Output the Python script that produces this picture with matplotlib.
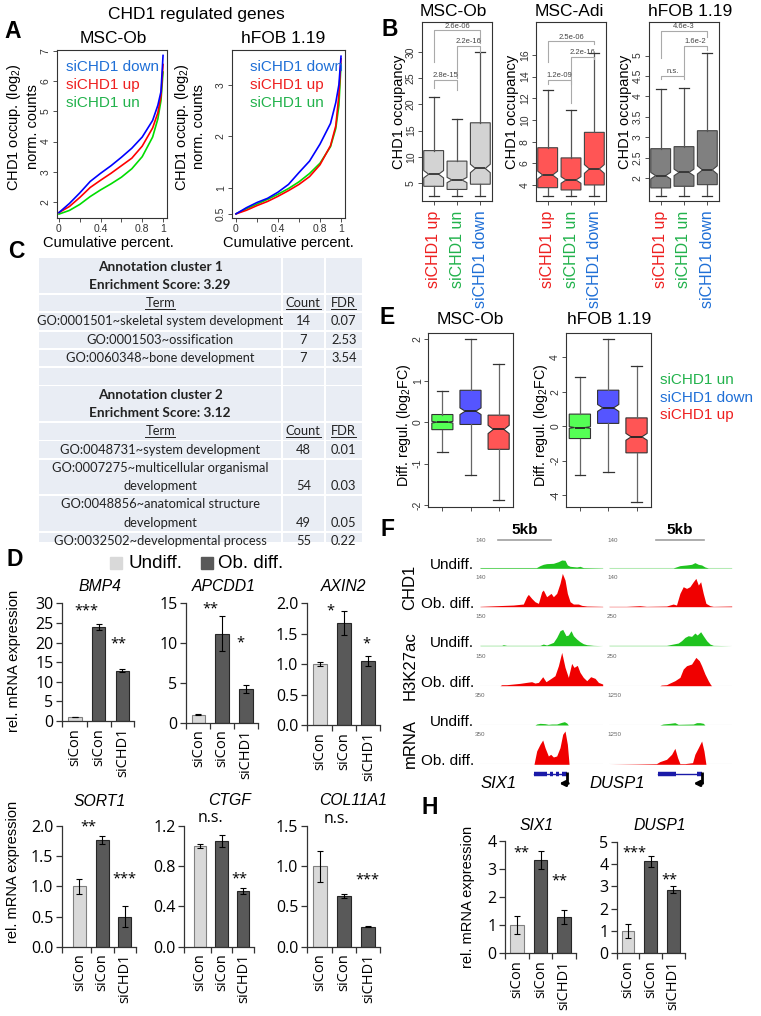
import matplotlib
matplotlib.use('Agg')
import matplotlib.pyplot as plt
from matplotlib.patches import Rectangle
from matplotlib.transforms import offset_copy

# ================= DATA =================
# Panel A: cumulative distributions (quantile curves)
cum_pct = [0, 0.1, 0.2, 0.3, 0.4, 0.5, 0.6, 0.7, 0.8, 0.9, 0.95, 0.98, 1.0]
a_msc_down = [1.65, 1.95, 2.30, 2.68, 2.95, 3.20, 3.48, 3.78, 4.15, 4.70, 5.20, 5.65, 6.85]
a_msc_up = [1.65, 1.85, 2.15, 2.48, 2.72, 2.95, 3.20, 3.45, 3.85, 4.45, 4.95, 5.50, 6.55]
a_msc_un = [1.60, 1.72, 1.92, 2.18, 2.40, 2.60, 2.82, 3.10, 3.50, 4.15, 4.75, 5.35, 6.30]
a_hfob_down = [0.50, 0.62, 0.72, 0.80, 0.92, 1.07, 1.30, 1.52, 1.85, 2.25, 2.65, 3.00, 3.55]
a_hfob_up = [0.50, 0.57, 0.66, 0.74, 0.84, 0.95, 1.07, 1.22, 1.45, 1.82, 2.20, 2.80, 3.50]
a_hfob_un = [0.50, 0.60, 0.69, 0.78, 0.88, 0.99, 1.12, 1.28, 1.48, 1.80, 2.15, 2.60, 3.40]

# Panel B: box statistics per group (whislo, q1, median, q3, whishi, notch half-width)
b_groups = ['siCHD1 up', 'siCHD1 un', 'siCHD1 down']
b_msc_ob = [(2.6, 4.4, 6.7, 11.2, 21.5, 0.7), (2.6, 3.8, 5.6, 9.2, 17.2, 0.5), (2.6, 4.8, 7.8, 16.5, 29.9, 0.8)]
b_msc_adi = [(2.98, 3.75, 4.92, 7.44, 12.77, 0.35), (2.98, 3.54, 4.46, 6.5, 10.9, 0.3), (2.98, 4.0, 5.48, 8.86, 16.15, 0.4)]
b_hfob = [(1.57, 1.76, 2.06, 2.72, 4.18, 0.08), (1.57, 1.80, 2.14, 2.77, 4.20, 0.08), (1.57, 1.84, 2.20, 3.16, 5.07, 0.1)]
# significance brackets: (label, left group, right group, bracket y, left leg end, right leg end)
b_msc_ob_sig = [('2.6e-06', 1, 3, 34.1, 28.1, 31.7), ('2.2e-16', 2, 3, 31.1, 25.0, 30.0), ('2.8e-15', 1, 2, 24.7, 23.1, 22.7)]
b_msc_adi_sig = [('2.5e-06', 1, 3, 17.26, 15.4, 17.0), ('2.2e-16', 2, 3, 15.8, 11.6, 15.6), ('1.2e-09', 1, 2, 13.7, 13.3, 13.3)]
b_hfob_sig = [('4.6e-3', 1, 3, 5.6, 4.94, 5.46), ('1.6e-2', 2, 3, 5.24, 4.53, 5.13), ('n.s.', 1, 2, 4.5, 4.42, 4.42)]

# Panel C: DAVID annotation clusters
c1_title = ['Annotation cluster 1', 'Enrichment Score: 3.29']
c1_terms = ['GO:0001501~skeletal system development', 'GO:0001503~ossification', 'GO:0060348~bone development']
c1_counts = [14, 7, 7]
c1_fdr = ['0.07', '2.53', '3.54']
c2_title = ['Annotation cluster 2', 'Enrichment Score: 3.12']
c2_terms = ['GO:0048731~system development', 'GO:0007275~multicellular organismal\ndevelopment',
            'GO:0048856~anatomical structure\ndevelopment', 'GO:0032502~developmental process']
c2_counts = [48, 54, 49, 55]
c2_fdr = ['0.01', '0.03', '0.05', '0.22']

# Panel D / H: qPCR
d_cats = ['siCon', 'siCon', 'siCHD1']
bmp4_vals, bmp4_err = [1.0, 24.0, 12.8], [0.1, 0.7, 0.4]
apcdd1_vals, apcdd1_err = [1.0, 11.2, 4.2], [0.05, 2.2, 0.5]
axin2_vals, axin2_err = [1.0, 1.68, 1.05], [0.03, 0.2, 0.08]
sort1_vals, sort1_err = [1.0, 1.77, 0.5], [0.12, 0.07, 0.18]
ctgf_vals, ctgf_err = [1.0, 1.05, 0.55], [0.02, 0.06, 0.03]
col11a1_vals, col11a1_err = [1.0, 0.63, 0.25], [0.19, 0.02, 0.005]
six1_vals, six1_err = [1.0, 3.33, 1.3], [0.32, 0.33, 0.25]
dusp1_vals, dusp1_err = [1.0, 4.12, 2.85], [0.3, 0.25, 0.15]
# significance marks: (label, category position, value)
bmp4_sig = [('***', 0.49, 29.1), ('**', 1.83, 20.9)]
apcdd1_sig = [('**', 0.49, 14.9), ('*', 1.75, 10.6)]
axin2_sig = [('*', 0.42, 1.95), ('*', 1.93, 1.4)]
sort1_sig = [('**', 0.39, 2.06), ('***', 1.96, 1.19)]
ctgf_sig = [('n.s.', 0.46, 1.29), ('**', 1.84, 0.72)]
col11a1_sig = [('n.s.', 0.69, 1.6), ('***', 1.98, 0.88)]
six1_sig = [('**', 0.21, 3.74), ('**', 1.8, 2.75)]
dusp1_sig = [('***', 0.3, 4.7), ('**', 1.85, 3.47)]

# Panel E: box statistics (whislo, q1, median, q3, whishi, notch half-width)
e_groups = ['siCHD1 un', 'siCHD1 down', 'siCHD1 up']
e_msc_ob = [(-0.72, -0.18, 0.0, 0.185, 0.745, 0.02), (-1.27, -0.055, 0.265, 0.77, 2.01, 0.08), (-1.89, -0.655, -0.175, 0.17, 1.41, 0.1)]
e_hfob = [(-2.85, -0.72, -0.08, 0.70, 2.87, 0.05), (-2.66, 0.16, 1.06, 2.09, 5.08, 0.2), (-4.4, -1.55, -0.62, 0.48, 3.49, 0.2)]

# Panel F: browser tracks, signal in % of track range at window positions (%)
six1_chd1_u_pos = [0, 46, 48.9, 51.6, 54.3, 59.8, 63.9, 66.6, 69.3, 71.2, 73.4, 78.8, 81.5, 84.2, 100]
six1_chd1_u = [2, 2, 8, 12, 14, 15, 20, 25, 24, 10, 6, 4, 6, 2, 1]
six1_chd1_o_pos = [0, 27.2, 35.3, 38.0, 39.4, 42.1, 44.8, 47.6, 50.3, 51.6, 54.3, 57.9, 59.8, 62.5, 65.2, 67.1, 69.3, 71.2, 73.4, 76.1, 80.2, 82.9, 87.0, 100]
six1_chd1_o = [1, 5, 8, 30, 37, 25, 15, 10, 45, 50, 30, 40, 30, 40, 70, 100, 80, 40, 15, 8, 8, 4, 2, 1]
six1_k27_u_pos = [0, 17.7, 19.0, 21.7, 48.9, 51.6, 54.3, 59.8, 62.5, 65.2, 67.4, 70.1, 72.0, 74.2, 76.1, 78.8, 81.5, 84.2, 87.0, 92.4, 100]
six1_k27_u = [1, 1, 3, 1, 1, 5, 2, 10, 25, 45, 49, 30, 32, 45, 30, 20, 12, 6, 3, 1, 0]
six1_k27_o_pos = [0, 16.3, 17.7, 21.7, 27.2, 32.6, 38.0, 42.1, 44.8, 47.6, 51.1, 53.8, 57.1, 61.1, 63.9, 66.6, 69.3, 72.0, 74.7, 76.6, 79.3, 81.5, 84.2, 87.0, 90.2, 93.8, 96.5, 100]
six1_k27_o = [0, 0, 3, 3, 5, 7, 10, 12, 8, 10, 27, 12, 20, 30, 60, 100, 55, 25, 67, 55, 61, 40, 25, 15, 27, 22, 10, 5]
six1_rna_u_pos = [0, 44.8, 46.2, 48.9, 53.0, 55.7, 58.4, 62.5, 66.6, 68.8, 70.7, 72.0, 100]
six1_rna_u = [0, 0, 3, 5, 4, 2, 3, 3, 8, 10, 6, 0, 0]
six1_rna_o_pos = [0, 44.0, 46.2, 48.9, 51.1, 53.0, 55.7, 57.6, 59.8, 62.5, 65.2, 67.4, 69.3, 71.2, 72.6, 100]
six1_rna_o = [0, 0, 40, 60, 73, 50, 25, 30, 22, 25, 50, 90, 100, 60, 0, 0]

dusp1_chd1_u_pos = [0, 52.3, 57.8, 63.2, 67.3, 70.0, 72.8, 75.5, 78.2, 80.9, 100]
dusp1_chd1_u = [1, 1, 8, 10, 12, 17, 12, 10, 4, 1, 1]
dusp1_chd1_o_pos = [0, 14.2, 19.6, 25.1, 30.5, 46.9, 49.6, 52.3, 55.0, 57.8, 60.5, 63.2, 65.9, 68.7, 70.8, 72.8, 74.7, 76.8, 79.0, 82.3, 85.0, 100]
dusp1_chd1_o = [1, 1, 2, 3, 1, 2, 5, 8, 5, 40, 60, 55, 60, 75, 85, 65, 75, 40, 10, 3, 1, 2]
dusp1_k27_u_pos = [0, 46.9, 49.6, 52.3, 56.4, 59.1, 61.9, 64.6, 67.3, 70.0, 71.9, 74.7, 76.8, 79.6, 82.3, 85.0, 100]
dusp1_k27_u = [1, 1, 3, 5, 8, 15, 25, 30, 28, 38, 32, 42, 30, 15, 5, 1, 0]
dusp1_k27_o_pos = [0, 41.4, 42.8, 46.9, 49.6, 53.7, 57.8, 60.5, 63.2, 67.3, 70.8, 73.6, 75.5, 78.2, 80.9, 82.8, 83.7, 100]
dusp1_k27_o = [0, 0, 2, 3, 8, 15, 25, 50, 60, 65, 85, 75, 60, 35, 15, 3, 0, 0]
dusp1_rna_u_pos = [0, 41.4, 44.1, 49.6, 53.7, 56.4, 68.7, 71.4, 74.1, 76.8, 78.2, 100]
dusp1_rna_u = [0, 0, 3, 5, 7, 2, 3, 7, 7, 5, 0, 0]
dusp1_rna_o_pos = [0, 22.3, 38.7, 41.4, 46.9, 51.0, 53.7, 55.9, 57.8, 61.9, 68.1, 70.0, 72.8, 75.5, 77.4, 79.0, 100]
dusp1_rna_o = [0, 1, 2, 8, 15, 30, 48, 20, 2, 2, 5, 30, 50, 70, 40, 0, 0]
six1_ranges = ['140', '140', '150', '150', '350', '350']
dusp1_ranges = ['140', '140', '250', '250', '1250', '1250']

# ================= FIGURE =================
W, H = 761, 1016
plt.rcParams['font.family'] = ['Liberation Sans', 'DejaVu Sans']
plt.rcParams['mathtext.fontset'] = 'custom'
plt.rcParams['mathtext.rm'] = 'Liberation Sans'
plt.rcParams['mathtext.it'] = 'Liberation Sans:italic'
fig = plt.figure(figsize=(W / 100, H / 100), dpi=100)


def add_ax(x0, y0, x1, y1):
    return fig.add_axes([x0 / W, 1 - y1 / H, (x1 - x0) / W, (y1 - y0) / H])


def ftext(x, y, s, **kw):
    kw.setdefault('ha', 'center')
    kw.setdefault('va', 'center')
    return fig.text(x / W, 1 - y / H, s, **kw)


def r_frame(ax):
    for sp in ax.spines.values():
        sp.set_color('#333333')
        sp.set_linewidth(0.8)
    ax.tick_params(length=3, width=0.6, color='#333333', labelsize=7.5, pad=1.5, labelcolor='#333333')


def rot_yticks(ax, ticks, labels):
    ax.set_yticks(ticks)
    ax.set_yticklabels(labels, rotation=90, va='center')


LETTER = dict(fontsize=16.5, fontweight='bold')
for lab, x, y in [('A', 13, 31.5), ('B', 390, 29), ('C', 16, 252), ('D', 15, 560),
                  ('E', 387, 318), ('F', 387, 530), ('H', 430, 807.5)]:
    ftext(x, y, lab, **LETTER)

# ---------------- Panel A ----------------
A_LINE = {'down': '#0000ff', 'up': '#ff0000', 'un': '#00dd00'}
A_TXT = {'down': '#1f6fd6', 'up': '#ee2020', 'un': '#22b24c'}
ftext(196, 15, 'CHD1 regulated genes', fontsize=12.5)
a_panels = [
    ((57, 50, 167, 218), 'MSC-Ob', (a_msc_down, a_msc_up, a_msc_un), (-0.019, 1.038), (1.47, 7.03),
     [2, 3, 4, 5, 6, 7], ['2', '3', '4', '5', '6', '7'], (14, 33), 0.08, 108, 113),
    ((232, 50, 345, 218), 'hFOB 1.19', (a_hfob_down, a_hfob_up, a_hfob_un), (-0.038, 1.038), (0.42, 3.67),
     [0.5, 1, 2, 3], ['0.5', '1', '2', '3'], (182, 199), 0.16, 288, 283),
]
for box, title, (dn, up, un), xl, yl, yt, ytl, ylx, legx, xlabx, titx in a_panels:
    ax = add_ax(*box)
    ax.plot(cum_pct, un, color=A_LINE['un'], lw=1.2)
    ax.plot(cum_pct, up, color=A_LINE['up'], lw=1.2)
    ax.plot(cum_pct, dn, color=A_LINE['down'], lw=1.2)
    ax.set_xlim(*xl)
    ax.set_ylim(*yl)
    ax.set_xticks([0, 0.2, 0.4, 0.6, 0.8, 1.0])
    ax.set_xticklabels(['0', '', '0.4', '', '0.8', '1'])
    rot_yticks(ax, yt, ytl)
    r_frame(ax)
    for i, (k, s) in enumerate([('down', 'siCHD1 down'), ('up', 'siCHD1 up'), ('un', 'siCHD1 un')]):
        ax.text(legx, 0.9 - i * 0.107, s, transform=ax.transAxes, color=A_TXT[k], fontsize=11, va='center')
    ftext(titx, 38.5, title, fontsize=12.5)
    ftext(ylx[0], 127, 'CHD1 occup. (log$_2$)', rotation=90, fontsize=10.5)
    ftext(ylx[1], 127, 'norm. counts', rotation=90, fontsize=10.5)
    ftext(xlabx, 243, 'Cumulative percent.', fontsize=10.5)

# ---------------- Panel B ----------------
GRP_COL = {'siCHD1 up': '#ee2020', 'siCHD1 un': '#22b24c', 'siCHD1 down': '#1f6fd6'}
b_panels = [
    ((422, 22, 492, 201), 'MSC-Ob', 453, b_msc_ob, b_msc_ob_sig, '#d3d3d3', (1.6, 35.7),
     [5, 10, 15, 20, 25, 30], ['5', '10', '15', '20', '25', '30'], 399),
    ((536, 22, 606, 201), 'MSC-Adi', 569, b_msc_adi, b_msc_adi_sig, '#ff5555', (2.52, 19.05),
     [4, 6, 8, 10, 12, 14, 16], ['4', '6', '8', '10', '12', '14', '16'], 512),
    ((649, 22, 719, 201), 'hFOB 1.19', 690, b_hfob, b_hfob_sig, '#808080', (1.44, 5.82),
     [2, 2.5, 3, 3.5, 4, 4.5, 5], ['2', '2.5', '3', '3.5', '4', '4.5', '5'], 625),
]
for box, title, tx, data, sig, fc, yl, yt, ytl, ylabx in b_panels:
    ax = add_ax(*box)
    stats = [dict(whislo=lo, q1=q1, med=md, q3=q3, whishi=hi, cilo=md - n, cihi=md + n, fliers=[])
             for lo, q1, md, q3, hi, n in data]
    ax.bxp(stats, positions=[1, 2, 3], widths=0.85, shownotches=True, patch_artist=True, showfliers=False,
           boxprops=dict(facecolor=fc, edgecolor='#444444', linewidth=0.8),
           medianprops=dict(color='#333333', linewidth=1.3),
           whiskerprops=dict(color='#555555', linewidth=0.9),
           capprops=dict(color='#333333', linewidth=0.9), manage_ticks=False)
    for lab, i, j, y, le, re in sig:
        ax.plot([i, i, j, j], [le, y, y, re], color='#aaaaaa', lw=0.8)
        ax.text((i + j) / 2, y + (yl[1] - yl[0]) * 0.004, lab, ha='center', va='bottom', fontsize=5.5, color='#444444')
    ax.set_xlim(0.5, 3.5)
    ax.set_ylim(*yl)
    rot_yticks(ax, yt, ytl)
    ax.set_xticks([1, 2, 3])
    ax.set_xticklabels(b_groups, rotation=90, fontsize=11.5, va='top')
    r_frame(ax)
    ax.tick_params(axis='x', labelsize=11.5, pad=4)
    for t, g in zip(ax.get_xticklabels(), b_groups):
        t.set_color(GRP_COL[g])
    ftext(tx, 12, title, fontsize=12.5)
    ftext(ylabx, 112, 'CHD1 occupancy', rotation=90, fontsize=10.5)

# ---------------- Panel C ----------------
tax = add_ax(39, 258, 362, 542)
tax.set_xlim(39, 362)
tax.set_ylim(542, 258)
tax.axis('off')
TFONT = ['Lato', 'DejaVu Sans']
TFS = 9.3
CELL = '#e9edf4'
cols = [(39.3, 281), (283, 323.5), (325.5, 362)]
hrow, gap = 16.5, 1.8
rows = []  # (kind, payload, nlines)
for title, terms, counts, fdrs in [(c1_title, c1_terms, c1_counts, c1_fdr), (c2_title, c2_terms, c2_counts, c2_fdr)]:
    if rows:
        rows.append(('blank', None, 1))
    rows.append(('title', title, 2))
    rows.append(('head', None, 1))
    for t, c, f in zip(terms, counts, fdrs):
        rows.append(('data', (t, c, f), t.count('\n') + 1))
y = 258.3
fig.canvas.draw()
renderer = fig.canvas.get_renderer()
for kind, payload, n in rows:
    h = n * hrow + (n - 1) * gap
    for cx0, cx1 in cols:
        tax.add_patch(Rectangle((cx0, y), cx1 - cx0, h, facecolor=CELL, edgecolor='none'))
    line_c = [y + hrow / 2 + k * (hrow + gap) for k in range(n)]
    mid = lambda c: (c[0] + c[1]) / 2
    if kind == 'title':
        for k, s in enumerate(payload):
            tax.text(mid(cols[0]), line_c[k] + 0.5, s, ha='center', va='center', fontsize=9.8,
                     fontweight='bold', family=TFONT, color='#222222')
    elif kind == 'head':
        for c, s in zip(cols, ['Term', 'Count', 'FDR']):
            t = tax.text(mid(c), line_c[0], s, ha='center', va='center', fontsize=TFS, family=TFONT, color='#222222')
            bb = t.get_window_extent(renderer)
            inv = tax.transData.inverted()
            (bx0, _), (bx1, _) = inv.transform([(bb.x0, bb.y0), (bb.x1, bb.y0)])
            tax.plot([bx0, bx1], [line_c[0] + 6.2, line_c[0] + 6.2], color='#222222', lw=0.7)
    elif kind == 'data':
        term, cnt, fdr = payload
        for k, s in enumerate(term.split('\n')):
            tax.text(mid(cols[0]), line_c[k], s, ha='center', va='center', fontsize=TFS, family=TFONT, color='#222222')
        tax.text(mid(cols[1]), line_c[-1], str(cnt), ha='center', va='center', fontsize=TFS, family=TFONT, color='#222222')
        tax.text(mid(cols[2]), line_c[-1], fdr, ha='center', va='center', fontsize=TFS, family=TFONT, color='#222222')
    y += h + gap

# ---------------- Panel D / H ----------------
LIGHT, LIGHT_EDGE = '#d9d9d9', '#808080'
DARK, DARK_EDGE = '#595959', '#262626'
TICKFONT = ['Open Sans', 'DejaVu Sans']
bar_panels = [
    ('BMP4', (61.7, 603.3, 134.4, 721), -0.55, bmp4_vals, bmp4_err, [0, 5, 10, 15, 20, 25, 30], '{:.0f}', bmp4_sig, (100, 586.7)),
    ('APCDD1', (185.7, 603.3, 258, 722.7), -0.53, apcdd1_vals, apcdd1_err, [0, 5, 10, 15], '{:.0f}', apcdd1_sig, (223.3, 586.7)),
    ('AXIN2', (306.7, 603.3, 380.4, 725), -0.55, axin2_vals, axin2_err, [0, 0.5, 1.0, 1.5, 2.0], '{:.1f}', axin2_sig, (343.3, 586.7)),
    ('SORT1', (61.7, 826, 136.4, 946.7), -0.77, sort1_vals, sort1_err, [0, 0.5, 1.0, 1.5, 2.0], '{:.1f}', sort1_sig, (100, 801.7)),
    ('CTGF', (184.3, 826, 254.1, 946.7), -0.725, ctgf_vals, ctgf_err, [0, 0.4, 0.8, 1.2], '{:.1f}', ctgf_sig, (230, 800.5)),
    ('COL11A1', (306.7, 826, 380.4, 946.7), -0.55, col11a1_vals, col11a1_err, [0, 0.5, 1.0, 1.5], '{:.1f}', col11a1_sig, (353, 800.5)),
    ('SIX1', (505, 841, 576, 953.3), -0.5, six1_vals, six1_err, [0, 1, 2, 3, 4], '{:.0f}', six1_sig, (536.7, 825)),
    ('DUSP1', (616.7, 841.7, 684.5, 953.3), -0.5, dusp1_vals, dusp1_err, [0, 1, 2, 3, 4, 5], '{:.0f}', dusp1_sig, (660, 825)),
]
for gene, box, xleft, vals, errs, yt, fmt, sig, tpos in bar_panels:
    ax = add_ax(*box)
    ax.bar([0, 1, 2], vals, width=0.57, color=[LIGHT, DARK, DARK], edgecolor=[LIGHT_EDGE, DARK_EDGE, DARK_EDGE],
           linewidth=0.8, yerr=errs, capsize=2.5, error_kw=dict(ecolor='black', elinewidth=0.8, capthick=0.8))
    ax.set_xlim(xleft, 2.5)
    ax.set_ylim(0, yt[-1])
    ax.set_yticks(yt)
    ax.set_yticklabels([fmt.format(v) for v in yt], family=TICKFONT, fontsize=11.5)
    ax.set_xticks([xleft, 0.5, 1.5, 2.5])
    ax.set_xticklabels([])
    ax.set_xticks([0, 1, 2], minor=True)
    ax.set_xticklabels(d_cats, minor=True, rotation=90, family=TICKFONT, fontsize=10.5, va='top')
    ax.tick_params(axis='x', which='minor', length=0, pad=5)
    ax.tick_params(axis='x', which='major', length=4, width=0.9, color='#333333')
    ax.tick_params(axis='y', length=4, width=0.9, color='#333333', pad=2)
    for s in ['top', 'right']:
        ax.spines[s].set_visible(False)
    for s in ['left', 'bottom']:
        ax.spines[s].set_color('#333333')
        ax.spines[s].set_linewidth(0.9)
    for lab, xp, yv in sig:
        fs = 10.5 if '*' in lab else 11.5
        off = -0.55 * fs if '*' in lab else -0.3 * fs
        tr = offset_copy(ax.transData, fig=fig, y=off, units='points')
        ax.text(xp, yv, lab, transform=tr, ha='center', va='baseline', fontsize=fs,
                family=TICKFONT, clip_on=False)
    ftext(tpos[0], tpos[1], gene, fontsize=11.3, style='italic')

ftext(14, 661, 'rel. mRNA expression', rotation=90, fontsize=10.5)
ftext(13.3, 871.7, 'rel. mRNA expression', rotation=90, fontsize=10.5)
ftext(468.3, 897, 'rel. mRNA expression', rotation=90, fontsize=10.5)
# legend of D
for x0, fc, ec, lab, tx in [(109.5, LIGHT, LIGHT, 'Undiff.', 129), (200.5, DARK, DARK, 'Ob. diff.', 218)]:
    fig.add_artist(Rectangle((x0 / W, 1 - 569 / H), 12 / W, 12 / H, transform=fig.transFigure,
                             facecolor=fc, edgecolor=ec))
    ftext(tx, 563, lab, ha='left', fontsize=13.5)

# ---------------- Panel E ----------------
E_FILL = {'siCHD1 un': '#55ff55', 'siCHD1 down': '#5555ff', 'siCHD1 up': '#ff5555'}
e_panels = [
    ((428.3, 332.7, 512.7, 506.7), 'MSC-Ob', 470.3, e_msc_ob, (-2.04, 2.16), [-2, -1, 0, 1, 2], 404),
    ((565.7, 332.7, 650.7, 506.7), 'hFOB 1.19', 609, e_hfob, (-4.68, 5.43), [-4, -2, 0, 2, 4], 540.5),
]
for box, title, tx, data, yl, yt, ylabx in e_panels:
    ax = add_ax(*box)
    stats = [dict(whislo=lo, q1=q1, med=md, q3=q3, whishi=hi, cilo=md - n, cihi=md + n, fliers=[])
             for lo, q1, md, q3, hi, n in data]
    bp = ax.bxp(stats, positions=[1, 2, 3], widths=0.75, shownotches=True, patch_artist=True, showfliers=False,
                boxprops=dict(edgecolor='#333333', linewidth=0.8),
                medianprops=dict(color='#222222', linewidth=1.3),
                whiskerprops=dict(color='#666666', linewidth=0.9),
                capprops=dict(color='#333333', linewidth=0.9), manage_ticks=False)
    for patch, g in zip(bp['boxes'], e_groups):
        patch.set_facecolor(E_FILL[g])
    ax.set_xlim(0.5, 3.5)
    ax.set_ylim(*yl)
    rot_yticks(ax, yt, [str(v) for v in yt])
    ax.set_xticks([1, 2, 3])
    ax.set_xticklabels([])
    r_frame(ax)
    ax.tick_params(axis='y', pad=1)
    ftext(tx, 320, title, fontsize=12.5)
    ftext(ylabx, 425, 'Diff. regul. (log$_2$FC)', rotation=90, fontsize=10.3)
for i, g in enumerate(e_groups):
    ftext(660, 380 + i * 17.5, g, ha='left', fontsize=11, color=GRP_COL[g])

# ---------------- Panel F ----------------
GREEN_T, RED_T = '#1fc31f', '#f00000'
baselines = [568.3, 606.7, 645.7, 685.7, 725, 764.3]
track_h = 33.3
regions = [
    (480, 602.7, six1_ranges, [(six1_chd1_u_pos, six1_chd1_u), (six1_chd1_o_pos, six1_chd1_o),
                               (six1_k27_u_pos, six1_k27_u), (six1_k27_o_pos, six1_k27_o),
                               (six1_rna_u_pos, six1_rna_u), (six1_rna_o_pos, six1_rna_o)], (15, 57.9)),
    (609, 731.7, dusp1_ranges, [(dusp1_chd1_u_pos, dusp1_chd1_u), (dusp1_chd1_o_pos, dusp1_chd1_o),
                                (dusp1_k27_u_pos, dusp1_k27_u), (dusp1_k27_o_pos, dusp1_k27_o),
                                (dusp1_rna_u_pos, dusp1_rna_u), (dusp1_rna_o_pos, dusp1_rna_o)], (38.1, 77.4)),
]
for x0, x1, ranges, tracks, sbar in regions:
    for k, ((pos, sigv), base, rng) in enumerate(zip(tracks, baselines, ranges)):
        ax = add_ax(x0, base - track_h, x1, base)
        col = GREEN_T if k % 2 == 0 else RED_T
        ax.fill_between(pos, 0, sigv, color=col, lw=0, clip_on=False)
        ax.axhline(0, color='#d8d8d8', lw=0.8, zorder=0)
        ax.set_xlim(0, 100)
        ax.set_ylim(0, 100)
        ax.axis('off')
        ftext(x0 - 5 if x0 < 600 else x0 - 2, base - track_h + 4 if k else base - 28, rng,
              ha='left', fontsize=4.5, color='#666666')
        if k == 0:
            ax.plot(list(sbar), [85, 85], color='#a0a0a0', lw=1.2, clip_on=False)
            ax.text(sum(sbar) / 2, 115, '5kb', ha='center', va='center', fontsize=11, fontweight='bold', clip_on=False)
for k, base in enumerate(baselines):
    ftext(474, base - 3, 'Undiff.' if k % 2 == 0 else 'Ob. diff.', ha='right', fontsize=11)
ftext(410, 587, 'CHD1', rotation=90, fontsize=12)
ftext(410, 666, 'H3K27ac', rotation=90, fontsize=12)
ftext(410, 743, 'mRNA', rotation=90, fontsize=12)

# gene models
genes = [
    (480, 602.7, 'SIX1', 498.3, (44, 70.7), [(44, 54.3), (57, 59.8), (62, 64.7), (66.6, 70.7)], (71.2, 64.5)),
    (609, 731.7, 'DUSP1', 617.5, (40, 75.5), [(40, 55), (71.4, 75.5)], (75.5, 68.8)),
]
for x0, x1, name, nx, span, exons, arr in genes:
    ax = add_ax(x0, 766, x1, 792)
    ax.set_xlim(0, 100)
    ax.set_ylim(0, 1)
    ax.axis('off')
    ax.plot(span, [0.68, 0.68], color='#1a1aa8', lw=1.0)
    for a, b in exons:
        ax.plot([a, b], [0.68, 0.68], color='#1a1aa8', lw=3.2, solid_capstyle='butt')
    ax.plot([arr[0], arr[0]], [0.76, 0.33], color='black', lw=2.0, solid_capstyle='butt')
    ax.annotate('', xy=(arr[1], 0.33), xytext=(arr[0] + 0.8, 0.33),
                arrowprops=dict(arrowstyle='-|>', color='black', lw=2.0, mutation_scale=8, shrinkA=0, shrinkB=0))
    ftext(nx, 784, name, fontsize=12, style='italic')

fig.savefig('out.png', dpi=100)
